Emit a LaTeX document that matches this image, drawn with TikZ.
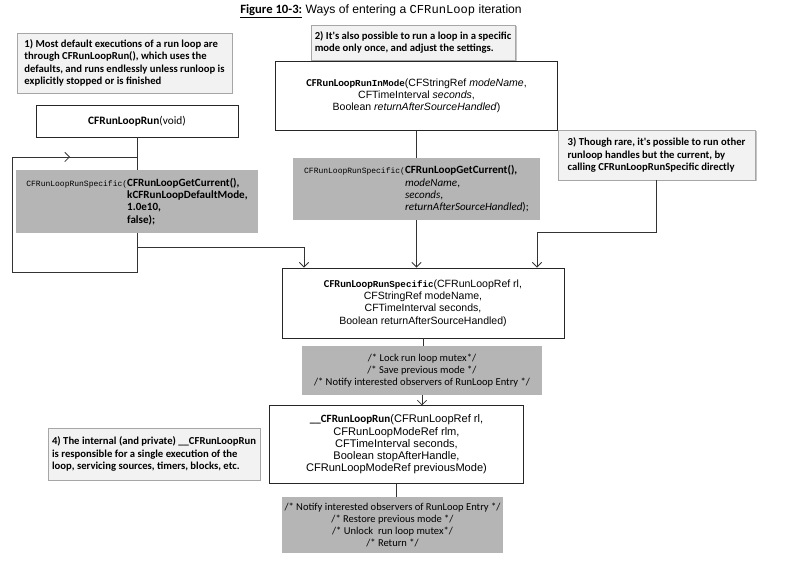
\documentclass[tikz,border=0pt]{standalone}
\usepackage{fontspec}
\setmainfont{Liberation Sans}
\newfontfamily\calfont{Carlito}
\newfontfamily\codefont{Liberation Mono}
\usepackage{tikz}
\usetikzlibrary{arrows.meta, shadows}

\newcommand{\monofn}[1]{{\codefont\fontsize{6}{9}\selectfont #1}}
\newcommand{\fnname}[2]{{\calfont\bfseries #1}{\codefont\bfseries\fontsize{6.9}{9}\selectfont #2}}
\newcommand{\specindent}{\hphantom{\monofn{CFRunLoopRunSpecific(}}}

\begin{document}
\begin{tikzpicture}[
    x=0.75pt, y=-0.75pt,
    notebox/.style={draw=gray!70, fill=gray!10, drop shadow={shadow xshift=1pt, shadow yshift=-1pt, fill=black!45}, align=left, font=\calfont\bfseries\fontsize{8}{9.4}\selectfont, inner sep=3pt},
    callbox/.style={draw=black!85, fill=white, align=center, font=\fontsize{7.9}{9.2}\selectfont, line width=0.6pt},
    graybox/.style={fill=gray!58, font=\calfont\fontsize{8.3}{9.2}\selectfont, inner sep=2pt},
    commentbox/.style={graybox, align=center, font=\calfont\fontsize{7.9}{8.8}\selectfont},
    line/.style={draw=black!80, line width=0.6pt},
    arrow/.style={line, -{Straight Barb[length=3.5pt, width=7pt]}}
]
    \useasboundingbox (0,0) rectangle (785,566);

    % --- Title ---
    \node[font=\fontsize{9.1}{11}\selectfont] (title) at (381,11) {{\calfont\bfseries\fontsize{9.5}{11}\selectfont\underline{Figure 10-3:}} Ways of entering a {\codefont CFRunLoop} iteration};

    % --- Notes ---
    \node[notebox, minimum width=161pt, minimum height=45pt] (note1) at (124.5,63) {1) Most default executions of a run loop are\\through CFRunLoopRun(), which uses the\\defaults, and runs endlessly unless runloop is\\explicitly stopped or is finished};
    \node[notebox, minimum width=150pt, minimum height=26pt] (note2) at (413,42.5) {2) It's also possible to run a loop in a specific\\mode only once, and adjust the settings.};
    \node[notebox, minimum width=148pt, minimum height=37.5pt] (note3) at (656.5,155) {3) Though rare, it's possible to run other\\runloop handles but the current, by\\calling CFRunLoopRunSpecific directly};
    \node[notebox, minimum width=148.5pt, minimum height=39pt] (note4) at (154,454) {4) The internal (and private) \_\_CFRunLoopRun\\is responsible for a single execution of the\\loop, servicing sources, timers, blocks, etc.};

    % --- Entry calls ---
    \node[callbox, minimum width=151.5pt, minimum height=24pt] (run) at (137,121) {{\calfont\fontsize{8.5}{10}\selectfont\textbf{CFRunLoopRun}(void)}};
    \node[callbox, minimum width=211.5pt, minimum height=52pt] (inmode) at (416.5,96) {\fnname{CFRunLoop}{RunInMode}(CFStringRef \textit{modeName},\\CFTimeInterval \textit{seconds},\\Boolean \textit{returnAfterSourceHandled})};

    % Specific calls (gray)
    \node[graybox, minimum width=182pt, minimum height=47pt, align=left] (leftspec) at (137,201.5) {\monofn{CFRunLoopRunSpecific(}\textbf{CFRunLoopGetCurrent(),}\\\specindent\textbf{kCFRunLoopDefaultMode,}\\\specindent\textbf{1.0e10,}\\\specindent\textbf{false);}};
    \node[graybox, minimum width=185pt, minimum height=46.5pt, align=left] (midspec) at (416.5,189) {\monofn{CFRunLoopRunSpecific(}\textbf{CFRunLoopGetCurrent(),}\\\specindent\textit{modeName},\\\specindent\textit{seconds},\\\specindent\textit{returnAfterSourceHandled});};

    % --- Main path ---
    \node[callbox, minimum width=211.5pt, minimum height=52.5pt] (main) at (423,303) {\fnname{CFRunLoop}{RunSpecific}(CFRunLoopRef rl,\\CFStringRef modeName,\\CFTimeInterval seconds,\\Boolean returnAfterSourceHandled)};
    \node[commentbox, minimum width=180pt, minimum height=37pt] (lock) at (422,370.5) {/* Lock run loop mutex*/\\/* Save previous mode */\\/* Notify interested observers of RunLoop Entry */};
    \node[callbox, minimum width=190pt, minimum height=58pt, font=\fontsize{8.3}{9.2}\selectfont] (inner) at (396.5,444.5) {{\calfont\bfseries \_\_CFRunLoopRun}(CFRunLoopRef rl,\\CFRunLoopModeRef rlm,\\CFTimeInterval seconds,\\Boolean stopAfterHandle,\\CFRunLoopModeRef previousMode)};
    \node[commentbox, minimum width=161pt, minimum height=42pt] (exit) at (392.5,525) {/* Notify interested observers of RunLoop Entry */\\/* Restore previous mode */\\/* Unlock\ \ run loop mutex*/\\/* Return */};

    % --- Helper points ---
    \coordinate (loopjoin) at (137,157);
    \coordinate (loopleft) at (12,157);
    \coordinate (loopmark) at (70,157);
    \coordinate (loopbl) at (12,272);
    \coordinate (loopbr) at (137,272);
    \coordinate (leftturn) at (304,247);
    \coordinate (rightturn) at (537,232);

    % --- Edges ---
    \draw[line] (run.south) -- (run.south |- leftspec.north);
    \draw[line] (leftspec.south) -- (loopbr) -- (loopbl) -- (loopleft) -- (loopjoin);
    \draw[arrow] (loopleft) -- (loopmark);
    \draw[arrow] (leftspec.south) |- (leftturn) -- (leftturn |- main.north);

    \draw[line] (inmode) -- (midspec);
    \draw[arrow] (midspec.south) -- (midspec.south |- main.north);

    \draw[arrow] (note3.south) |- (rightturn) -- (rightturn |- main.north);

    \draw[line] (main.south) -- (main.south |- lock.north);
    \draw[arrow] (lock.south) -- (lock.south |- inner.north);
    \draw[line] (inner.south) -- (inner.south |- exit.north);

\end{tikzpicture}
\end{document}
